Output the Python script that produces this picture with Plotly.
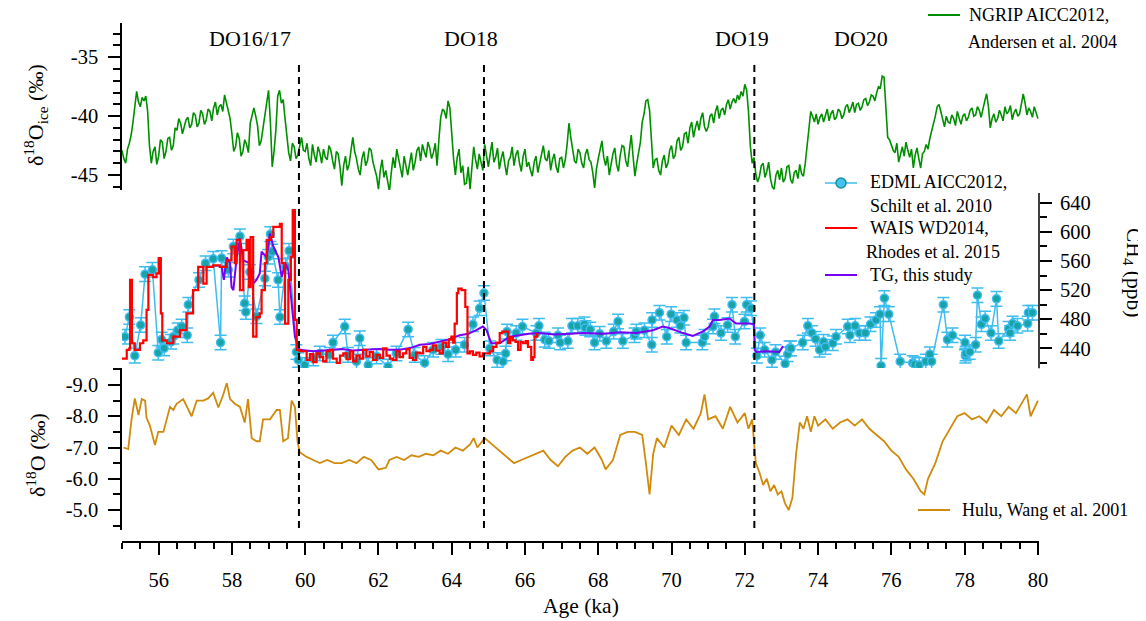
import plotly.graph_objects as go

# ---------------- data ----------------
# NGRIP d18O (per mil), regular 0.05 ka spacing starting at 55.00 ka (20 values per ka row)
ngrip_start = 55.0
ngrip_step = 0.05
ngrip_d18o = [
    -42.9, -43.6, -44.0, -42.8, -42.3, -41.6, -40.5, -39.0, -37.9, -38.8,
    -39.2, -38.4, -38.7, -38.3, -39.6, -42.5, -44.0, -43.0, -42.6, -44.1,  # 55
    -43.4, -42.0, -42.2, -43.6, -43.0, -41.9, -41.8, -42.9, -42.5, -41.0,
    -41.2, -40.2, -40.6, -41.5, -41.0, -40.3, -40.1, -41.0, -40.7, -39.7,  # 56
    -39.9, -40.9, -40.6, -39.5, -39.8, -40.7, -40.3, -39.4, -39.6, -40.4,
    -39.3, -38.8, -39.9, -39.2, -39.0, -39.6, -38.2, -38.9, -39.4, -40.2,  # 57
    -41.5, -43.0, -42.6, -41.4, -41.9, -43.4, -43.0, -42.0, -42.4, -43.1,
    -40.6, -39.9, -39.3, -40.0, -40.8, -42.5, -42.1, -41.0, -40.0, -38.6,  # 58
    -37.8, -40.5, -44.3, -43.0, -41.2, -38.3, -37.8, -38.9, -38.6, -40.2,
    -42.0, -43.1, -43.8, -42.3, -42.6, -43.6, -43.3, -42.4, -41.8, -42.9,  # 59
    -43.0, -42.3, -43.6, -44.2, -42.4, -43.3, -43.9, -42.6, -43.1, -44.0,
    -42.8, -43.5, -43.7, -42.5, -42.9, -43.8, -44.5, -43.0, -43.2, -44.3,  # 60
    -45.9, -44.2, -43.4, -44.6, -44.1, -42.9, -41.8, -43.0, -43.6, -44.5,
    -45.0, -43.6, -43.0, -44.2, -43.8, -42.7, -42.9, -43.9, -44.4, -45.1,  # 61
    -46.2, -44.6, -43.7, -45.2, -44.6, -45.5, -46.4, -44.8, -43.5, -44.4,
    -42.8, -43.6, -44.3, -45.2, -43.4, -44.1, -45.0, -44.0, -43.1, -44.6,  # 62
    -43.9, -42.9, -42.6, -43.8, -42.4, -43.0, -43.5, -42.2, -42.7, -43.6,
    -43.1, -42.3, -44.2, -42.0, -40.1, -39.4, -39.6, -40.2, -38.7, -39.3,  # 63
    -41.8, -43.6, -45.0, -43.5, -42.8, -44.8, -44.2, -45.8, -45.7, -44.3,
    -46.2, -44.0, -42.6, -43.7, -44.5, -43.2, -43.8, -44.6, -42.4, -43.5,  # 64
    -44.3, -43.2, -42.2, -43.9, -43.5, -42.7, -44.5, -43.6, -43.0, -44.1,
    -45.0, -43.8, -43.5, -42.6, -44.2, -43.3, -42.9, -44.0, -44.7, -43.4,  # 65
    -42.8, -44.3, -43.9, -44.6, -45.1, -43.9, -43.4, -44.8, -44.1, -43.2,
    -42.5, -43.6, -43.8, -42.9, -44.6, -43.7, -43.2, -44.3, -44.8, -43.6,  # 66
    -43.5, -44.4, -43.7, -42.4, -40.6, -41.8, -42.9, -43.8, -44.0, -42.8,
    -43.1, -44.0, -44.4, -43.2, -42.8, -43.7, -43.9, -44.8, -46.1, -44.5,  # 67
    -43.6, -42.8, -42.1, -43.5, -44.2, -43.4, -45.0, -44.1, -43.2, -42.7,
    -44.1, -44.7, -43.3, -42.5, -42.6, -43.8, -44.3, -42.9, -41.6, -43.4,  # 68
    -45.1, -44.0, -43.0, -42.2, -40.5, -39.8, -38.7, -38.6, -39.5, -41.8,
    -44.4, -43.7, -43.6, -44.6, -45.0, -43.8, -43.3, -44.4, -44.0, -42.9,  # 69
    -42.5, -43.6, -43.3, -42.1, -41.8, -42.9, -42.6, -41.5, -41.4, -42.3,
    -41.0, -40.5, -41.8, -41.0, -40.4, -41.2, -40.2, -39.7, -40.9, -41.3,  # 70
    -40.9, -40.0, -39.8, -40.6, -39.6, -39.1, -40.2, -39.5, -39.3, -39.9,
    -39.0, -38.6, -39.4, -38.8, -38.5, -38.9, -38.2, -38.6, -37.9, -38.3,  # 71
    -37.3, -37.8, -39.6, -42.5, -44.0, -43.5, -44.9, -45.6, -45.1, -44.2,
    -44.0, -45.2, -44.7, -43.9, -45.3, -46.0, -46.2, -45.0, -44.6, -45.4,  # 72
    -44.4, -45.6, -45.3, -44.3, -44.2, -45.4, -45.7, -44.8, -44.6, -45.3,
    -44.1, -44.9, -45.1, -44.0, -42.5, -40.8, -39.6, -40.0, -40.5, -39.8,  # 73
    -40.7, -40.1, -39.8, -40.5, -39.9, -39.4, -40.4, -39.8, -39.5, -40.3,
    -40.1, -39.4, -39.6, -40.2, -39.9, -39.2, -39.0, -39.7, -39.3, -38.8,  # 74
    -39.7, -39.0, -38.9, -39.5, -39.2, -38.6, -38.5, -39.1, -38.8, -38.2,
    -38.3, -38.7, -38.0, -37.5, -37.6, -36.6, -36.7, -39.5, -41.8, -42.0,  # 75
    -42.4, -42.9, -43.1, -42.3, -43.9, -43.2, -42.6, -43.4, -42.2, -42.9,
    -43.5, -42.8, -44.4, -43.3, -42.7, -43.6, -44.4, -43.2, -43.0, -42.4,  # 76
    -42.8, -41.9, -41.3, -40.6, -40.0, -39.2, -39.0, -39.6, -40.4, -40.9,
    -40.0, -40.5, -40.6, -39.9, -40.2, -40.8, -39.6, -40.1, -40.7, -40.0,  # 77
    -39.8, -40.4, -40.1, -39.5, -39.3, -40.0, -39.9, -39.2, -39.5, -40.1,
    -39.3, -38.7, -38.1, -39.2, -41.0, -40.2, -39.8, -40.5, -40.2, -39.5,  # 78
    -39.9, -40.4, -39.2, -39.8, -39.6, -39.1, -40.3, -39.7, -39.4, -40.0,
    -39.8, -39.0, -38.1, -38.9, -39.9, -39.3, -39.6, -40.1, -39.2, -39.7,  # 79
    -40.2,                                                                 # 80
]

# EDML CH4 (ppb)
edml_age = [
    55.08, 55.20, 55.35, 55.51, 55.63, 55.83, 55.99, 56.08, 56.15, 56.34,
    56.40, 56.52, 56.63, 56.78, 56.81, 57.10, 57.28, 57.49, 57.69, 57.72,
    57.90, 58.04, 58.22, 58.35, 58.38, 58.49, 58.67, 58.90, 58.99, 59.05,
    59.10, 59.26, 59.31, 59.47, 59.56, 59.76, 59.81, 59.99, 60.22, 60.40,
    60.67, 60.76, 61.08, 61.17, 61.40, 61.49, 61.72, 61.95, 62.26, 62.49,
    62.81, 62.99, 63.26, 63.49, 63.72, 63.90, 64.11, 64.35, 64.58, 64.76,
    64.88, 65.04, 65.24, 65.40, 65.47, 65.51, 65.76, 65.93, 66.31, 66.38,
    66.54, 66.65, 66.90, 66.96, 67.17, 67.28, 67.44, 67.62, 67.65, 67.78,
    67.90, 68.04, 68.22, 68.42, 68.54, 68.67, 68.99, 69.04, 69.26, 69.46,
    69.47, 69.67, 69.87, 69.99, 70.15, 70.24, 70.34, 70.40, 70.84, 70.90,
    71.13, 71.17, 71.35, 71.53, 71.65, 71.74, 71.99, 72.05, 72.17, 72.33,
    72.42, 72.54, 72.74, 72.84, 73.10, 73.17, 73.22, 73.26, 73.58, 73.72,
    73.83, 73.93, 74.04, 74.15, 74.20, 74.40, 74.49, 74.81, 74.87, 75.01,
    75.13, 75.29, 75.43, 75.58, 75.69, 75.72, 75.81, 75.93, 76.24, 76.58,
    76.64, 76.76, 76.94, 77.05, 77.10, 77.42, 77.53, 77.67, 78.01, 78.02,
    78.03, 78.14, 78.30, 78.35, 78.46, 78.56, 78.72, 78.87, 78.93, 79.20,
    79.24, 79.31, 79.44, 79.72, 79.74, 79.85,
]
edml_ch4 = [
    456, 483, 430, 472, 542, 548, 434, 452, 440, 449,
    456, 465, 470, 458, 500, 534, 557, 563, 448, 564,
    548, 580, 594, 502, 490, 545, 484, 536, 566, 597,
    573, 534, 483, 553, 574, 435, 424, 417, 426, 433,
    431, 448, 470, 431, 422, 454, 417, 429, 415, 433,
    466, 431, 420, 438, 442, 432, 438, 445, 473, 495,
    516, 440, 424, 422, 433, 463, 461, 470, 461, 471,
    452, 450, 458, 448, 450, 471, 471, 473, 468, 466,
    448, 460, 450, 463, 477, 450, 458, 463, 465, 445,
    479, 489, 456, 487, 479, 471, 482, 448, 448, 456,
    470, 484, 461, 472, 500, 456, 477, 500, 495, 430,
    458, 438, 424, 435, 419, 432, 440, 440, 448, 471,
    461, 453, 438, 449, 442, 447, 456, 470, 458, 471,
    461, 461, 473, 479, 487, 416, 509, 487, 422, 420,
    418, 417, 422, 432, 422, 500, 452, 458, 448, 430,
    433, 435, 445, 513, 473, 481, 461, 508, 450, 467,
    461, 474, 471, 474, 489, 489,
]
edml_err = 10

# WAIS Divide CH4 (ppb)
wais_age = [
    55.00, 55.13, 55.20, 55.22, 55.25, 55.27, 55.35, 55.49, 55.58, 55.67,
    55.72, 55.85, 55.94, 56.00, 56.03, 56.06, 56.10, 56.22, 56.40, 56.58,
    56.76, 56.94, 57.08, 57.22, 57.31, 57.49, 57.67, 57.86, 57.99, 58.08,
    58.13, 58.22, 58.31, 58.40, 58.46, 58.51, 58.58, 58.67, 58.76, 58.81,
    58.90, 58.95, 59.04, 59.13, 59.31, 59.36, 59.45, 59.54, 59.61, 59.66,
    59.72, 59.77, 59.85, 60.04, 60.13, 60.22, 60.31, 60.40, 60.49, 60.58,
    60.67, 60.76, 60.86, 60.95, 61.04, 61.13, 61.22, 61.31, 61.40, 61.49,
    61.58, 61.67, 61.76, 61.85, 61.95, 62.04, 62.13, 62.22, 62.31, 62.40,
    62.49, 62.58, 62.67, 62.76, 62.85, 62.94, 63.03, 63.13, 63.22, 63.31,
    63.40, 63.49, 63.58, 63.67, 63.76, 63.85, 63.92, 63.99, 64.04, 64.08,
    64.14, 64.18, 64.22, 64.27, 64.31, 64.37, 64.43, 64.50, 64.58, 64.67,
    64.76, 64.85, 64.95, 65.04, 65.13, 65.22, 65.31, 65.38, 65.45, 65.54,
    65.60, 65.67, 65.74, 65.81, 65.88, 65.95, 66.02, 66.08, 66.17, 66.22,
    66.26, 66.33,
]
wais_ch4 = [
    426, 438, 440, 534, 534, 447, 438, 447, 451, 493,
    541, 538, 543, 564, 564, 488, 451, 447, 456, 465,
    488, 520, 552, 529, 552, 554, 552, 561, 580, 557,
    589, 520, 575, 589, 524, 593, 456, 483, 488, 520,
    557, 589, 593, 607, 611, 557, 474, 534, 566, 630,
    479, 438, 436, 424, 432, 421, 433, 428, 422, 436,
    438, 426, 420, 430, 433, 425, 436, 422, 430, 426,
    438, 429, 435, 424, 431, 427, 440, 430, 426, 424,
    436, 428, 433, 439, 427, 424, 434, 433, 442, 436,
    438, 444, 437, 433, 448, 442, 452, 456, 448, 474,
    516, 522, 522, 520, 520, 497, 433, 436, 431, 434,
    429, 433, 433, 436, 442, 448, 461, 463, 463, 447,
    455, 451, 449, 438, 449, 447, 450, 442, 424, 428,
    456, 461,
]

# TG CH4 (ppb), this study
tg_age = [
    57.72, 57.78, 57.86, 57.95, 57.99, 58.04, 58.13, 58.22, 58.31, 58.49,
    58.58, 58.67, 58.76, 58.81, 58.95, 59.04, 59.13, 59.27, 59.36, 59.45,
    59.54, 59.63, 59.72, 59.85, 60.22, 60.50, 60.76, 61.00, 61.30, 61.67,
    62.00, 62.30, 62.58, 62.90, 63.13, 63.40, 63.67, 63.90, 64.22, 64.45,
    64.67, 64.85, 64.95, 65.08, 65.31, 65.58, 65.85, 66.10, 66.40, 66.80,
    67.22, 67.60, 68.13, 68.60, 69.04, 69.49, 69.76, 69.94, 70.31, 70.58,
    70.85, 71.04, 71.13, 71.31, 71.58, 71.76, 72.13, 72.25, 72.27, 72.31,
    72.60, 72.94, 73.03, 73.05,
]
tg_ch4 = [
    552, 534, 565, 557, 524, 520, 565, 591, 561, 557,
    529, 534, 543, 573, 565, 598, 580, 565, 538, 557,
    548, 497, 456, 438, 436, 437, 438, 439, 437, 438,
    439, 438, 438, 441, 445, 446, 449, 452, 458, 460,
    465, 470, 465, 447, 447, 456, 458, 460, 461, 459,
    460, 461, 460, 462, 461, 465, 470, 468, 461, 457,
    463, 470, 479, 479, 481, 474, 474, 473, 438, 435,
    436, 435, 442, 443,
]

# Hulu cave speleothem d18O (per mil)
hulu_age = [
    55.04, 55.17, 55.26, 55.35, 55.45, 55.54, 55.63, 55.67, 55.76, 55.90,
    55.99, 56.13, 56.22, 56.31, 56.40, 56.49, 56.67, 56.76, 56.90, 57.04,
    57.22, 57.35, 57.49, 57.63, 57.76, 57.86, 57.95, 58.08, 58.22, 58.35,
    58.44, 58.54, 58.67, 58.76, 58.85, 59.04, 59.22, 59.31, 59.40, 59.53,
    59.63, 59.72, 59.79, 59.85, 60.04, 60.22, 60.40, 60.60, 60.80, 61.00,
    61.20, 61.40, 61.60, 61.80, 62.00, 62.20, 62.30, 62.50, 62.70, 62.90,
    63.10, 63.30, 63.50, 63.70, 63.90, 64.10, 64.30, 64.50, 64.60, 64.70,
    64.90, 65.10, 65.30, 65.50, 65.70, 65.90, 66.10, 66.30, 66.50, 66.70,
    66.90, 67.10, 67.30, 67.50, 67.70, 67.90, 68.10, 68.20, 68.40, 68.60,
    68.80, 69.00, 69.20, 69.30, 69.40, 69.50, 69.60, 69.80, 70.00, 70.20,
    70.40, 70.60, 70.80, 70.90, 71.00, 71.20, 71.40, 71.60, 71.80, 72.00,
    72.10, 72.20, 72.30, 72.40, 72.50, 72.60, 72.70, 72.80, 72.90, 73.00,
    73.10, 73.20, 73.30, 73.40, 73.50, 73.60, 73.70, 73.80, 73.90, 74.00,
    74.20, 74.40, 74.60, 74.80, 75.00, 75.20, 75.40, 75.60, 75.80, 76.00,
    76.20, 76.40, 76.60, 76.80, 76.90, 77.00, 77.20, 77.40, 77.60, 77.80,
    78.00, 78.20, 78.40, 78.60, 78.80, 79.00, 79.20, 79.40, 79.60, 79.70,
    79.80, 80.00,
]
hulu_d18o = [
    -7.0, -6.95, -7.9, -8.57, -8.04, -8.55, -8.5, -7.95, -7.7, -7.08,
    -7.5, -7.5, -7.9, -8.3, -8.2, -8.4, -8.55, -8.35, -8.0, -8.5,
    -8.5, -8.57, -8.75, -8.28, -8.68, -9.06, -8.55, -8.4, -8.3, -7.8,
    -8.55, -7.3, -7.2, -7.2, -7.9, -7.9, -8.2, -8.2, -7.2, -7.3,
    -8.5, -8.3, -7.2, -6.85, -6.7, -6.6, -6.5, -6.6, -6.5, -6.5,
    -6.6, -6.5, -6.7, -6.6, -6.3, -6.35, -6.6, -6.7, -6.6, -6.75,
    -6.7, -6.8, -6.75, -6.9, -6.8, -7.0, -6.9, -7.1, -7.3, -7.0,
    -7.3, -7.1, -6.9, -6.7, -6.5, -6.6, -6.7, -6.8, -6.9, -6.6,
    -6.4, -6.7, -6.9, -7.0, -6.8, -7.0, -6.6, -6.3, -6.6, -7.4,
    -7.5, -7.5, -7.4, -6.5, -5.5, -6.8, -7.3, -7.0, -7.7, -7.4,
    -7.9, -7.6, -8.1, -8.7, -7.9, -8.0, -7.6, -8.3, -7.8, -8.1,
    -7.6, -7.9, -6.5, -6.2, -5.8, -6.0, -5.6, -5.8, -5.5, -5.6,
    -5.2, -5.0, -5.4, -6.8, -7.8, -7.6, -8.0, -7.5, -8.0, -7.7,
    -7.9, -7.6, -7.8, -7.9, -7.7, -7.9, -7.6, -7.4, -7.2, -6.9,
    -6.7, -6.3, -6.0, -5.6, -5.5, -6.0, -6.5, -7.2, -7.6, -8.0,
    -8.1, -7.9, -8.0, -7.8, -8.2, -8.0, -8.3, -8.1, -8.5, -8.7,
    -8.0, -8.5,
]

# DO event markers and labels
do_line_ages = [59.83, 64.88, 72.26]
do_labels = ["DO16/17", "DO18", "DO19", "DO20"]
do_label_ages = [58.49, 64.52, 71.93, 75.18]

# tick labels
x_tickvals = [56, 58, 60, 62, 64, 66, 68, 70, 72, 74, 76, 78, 80]
x_ticktext = ["56", "58", "60", "62", "64", "66", "68", "70", "72", "74", "76", "78", "80"]
ngrip_tickvals = [-35, -40, -45]
ngrip_ticktext = ["-35", "-40", "-45"]
ch4_tickvals = [440, 480, 520, 560, 600, 640]
ch4_ticktext = ["440", "480", "520", "560", "600", "640"]
hulu_tickvals = [-9, -8, -7, -6, -5]
hulu_ticktext = ["-9.0", "-8.0", "-7.0", "-6.0", "-5.0"]

# legend texts
ngrip_name = ["NGRIP AICC2012,", "Andersen et al. 2004"]
edml_name = ["EDML AICC2012,", "Schilt et al. 2010"]
wais_name = ["WAIS WD2014,", "Rhodes et al. 2015"]
tg_name = ["TG, this study"]
hulu_name = ["Hulu, Wang et al. 2001"]

# ---------------- styling ----------------
FONT = "Liberation Serif"
C_NGRIP = "#008f00"
C_EDML = "#3dbdf0"
C_EDML_FILL = "#17a3a8"
C_WAIS = "#ff0000"
C_TG = "#7a00f5"
C_HULU = "#d08a0c"

OFF = 8                      # page body margin in the browser
W, H = 1146 - OFF, 621 - OFF
LEFT, RIGHT, TOP, BOTTOM = 122, 1039, 23, 542   # plot area in screen pixels
ML, MT = LEFT - OFF, TOP - OFF
MR, MB = 1146 - RIGHT, 621 - BOTTOM
PW, PH = RIGHT - LEFT, BOTTOM - TOP


def py(pix):  # screen row -> paper y
    return (BOTTOM - pix) / PH


def px(pix):  # screen column -> paper x
    return (pix - LEFT) / PW


fig = go.Figure()

fig.add_trace(go.Scatter(
    x0=ngrip_start, dx=ngrip_step, y=ngrip_d18o, mode="lines",
    line=dict(color=C_NGRIP, width=1.6), name=" ".join(ngrip_name),
    xaxis="x", yaxis="y", showlegend=False))

fig.add_trace(go.Scatter(
    x=edml_age, y=edml_ch4, mode="lines+markers",
    line=dict(color=C_EDML, width=1.5),
    marker=dict(size=8, color=C_EDML_FILL, line=dict(color=C_EDML, width=1.5)),
    error_y=dict(type="constant", value=edml_err, color=C_EDML, thickness=1.5, width=6),
    name=" ".join(edml_name), xaxis="x", yaxis="y2", showlegend=False))

fig.add_trace(go.Scatter(
    x=tg_age, y=tg_ch4, mode="lines", line=dict(color=C_TG, width=2),
    name=" ".join(tg_name), xaxis="x", yaxis="y2", showlegend=False))

fig.add_trace(go.Scatter(
    x=wais_age, y=wais_ch4, mode="lines", line_shape="hv",
    line=dict(color=C_WAIS, width=2.2), name=" ".join(wais_name),
    xaxis="x", yaxis="y2", showlegend=False))

fig.add_trace(go.Scatter(
    x=hulu_age, y=hulu_d18o, mode="lines", line=dict(color=C_HULU, width=1.8),
    name=" ".join(hulu_name), xaxis="x", yaxis="y3", showlegend=False))

tickfont = dict(family=FONT, size=20.5, color="black")
axcommon = dict(showgrid=False, zeroline=False, showline=True, linecolor="black",
                linewidth=1.5, ticks="outside", tickwidth=1.5, ticklen=12,
                tickcolor="black", tickfont=tickfont, automargin=False)


def minor(t0, dt, ln):
    return dict(tickmode="linear", tick0=t0, dtick=dt, ticklen=ln,
                ticks="outside", tickwidth=1.5, tickcolor="black")


fig.update_layout(
    width=W, height=H,
    margin=dict(l=ML, r=MR, t=MT, b=MB, pad=0, autoexpand=False),
    paper_bgcolor="white", plot_bgcolor="white",
    font=dict(family=FONT, size=18, color="black"),
    showlegend=False,
    xaxis=dict(domain=[0, 1], range=[55, 80.03], anchor="free", position=0,
               tickmode="array", tickvals=x_tickvals, ticktext=x_ticktext,
               ticklabelstandoff=8, minor=minor(55, 0.5, 6), **axcommon),
    yaxis=dict(domain=[py(190), 1], range=[-46.27, -32.09], anchor="x", side="left",
               tickmode="array", tickvals=ngrip_tickvals, ticktext=ngrip_ticktext,
               ticklabelstandoff=6, minor=minor(0, 1, 7), **axcommon),
    yaxis2=dict(domain=[py(376), py(193)], range=[402, 653.5], anchor="free",
                position=1, side="right",
                tickmode="array", tickvals=ch4_tickvals, ticktext=ch4_ticktext,
                ticklabelstandoff=4, minor=minor(0, 20, 7),
                **{**axcommon, "showline": False}),
    yaxis3=dict(domain=[py(530), py(368)], range=[-4.36, -9.544], anchor="x", side="left",
                tickmode="array", tickvals=hulu_tickvals, ticktext=hulu_ticktext,
                ticklabelstandoff=6, minor=minor(0, 0.5, 7), **axcommon),
)

# CH4 axis line (only over the labelled span)
fig.add_shape(type="line", xref="paper", yref="y2", x0=1, x1=1, y0=412.5, y1=653.5,
              line=dict(color="black", width=1.5))

# DO dashed lines
for a in do_line_ages:
    fig.add_shape(type="line", xref="x", yref="paper", x0=a, x1=a,
                  y0=py(528), y1=py(60),
                  line=dict(color="black", width=2, dash="7px,5px"))

# DO labels
for lab, a in zip(do_labels, do_label_ages):
    fig.add_annotation(x=a, y=py(38), xref="x", yref="paper", text=lab,
                       showarrow=False, font=dict(family=FONT, size=22),
                       xanchor="center", yanchor="middle")


def text(xp, yp, s, size=18, angle=0, anchor="left"):
    fig.add_annotation(x=px(xp), y=py(yp), xref="paper", yref="paper", text=s,
                       textangle=angle, showarrow=False,
                       font=dict(family=FONT, size=size, color="black"),
                       xanchor=anchor, yanchor="middle")


# axis titles
text(36, 115, "δ<sup>18</sup>O<sub>ice</sub> (‰)", 22, -90, "center")
text(36, 455, "δ<sup>18</sup>O (‰)", 22, -90, "center")
text(1133, 272, "CH<sub>4</sub> (ppb)", 21.5, 90, "center")
text(581, 606, "Age (ka)", 21.5, 0, "center")


# legends (glyph + text)
def leg_line(x0, x1, yp, color, width=2):
    fig.add_shape(type="line", xref="paper", yref="paper",
                  x0=px(x0), x1=px(x1), y0=py(yp), y1=py(yp),
                  line=dict(color=color, width=width))


leg_line(928, 960, 15, C_NGRIP)
text(967, 15, ngrip_name[0])
text(966, 42, ngrip_name[1])

leg_line(825, 857, 183, C_EDML, 1.5)
fig.add_shape(type="circle", xref="paper", yref="paper",
              x0=px(836), x1=px(846), y0=py(188), y1=py(178),
              fillcolor="#42c2ee", line=dict(color="#1a8f9c", width=1.5))
text(868, 182, edml_name[0])
text(868, 206, edml_name[1])

leg_line(825, 857, 228, C_WAIS)
text(868, 228, wais_name[0])
text(864, 252, wais_name[1])

leg_line(825, 857, 275, C_TG)
text(868, 275, tg_name[0])

leg_line(918, 950, 510, C_HULU)
text(960, 510, hulu_name[0])

fig.write_html("out.html")
